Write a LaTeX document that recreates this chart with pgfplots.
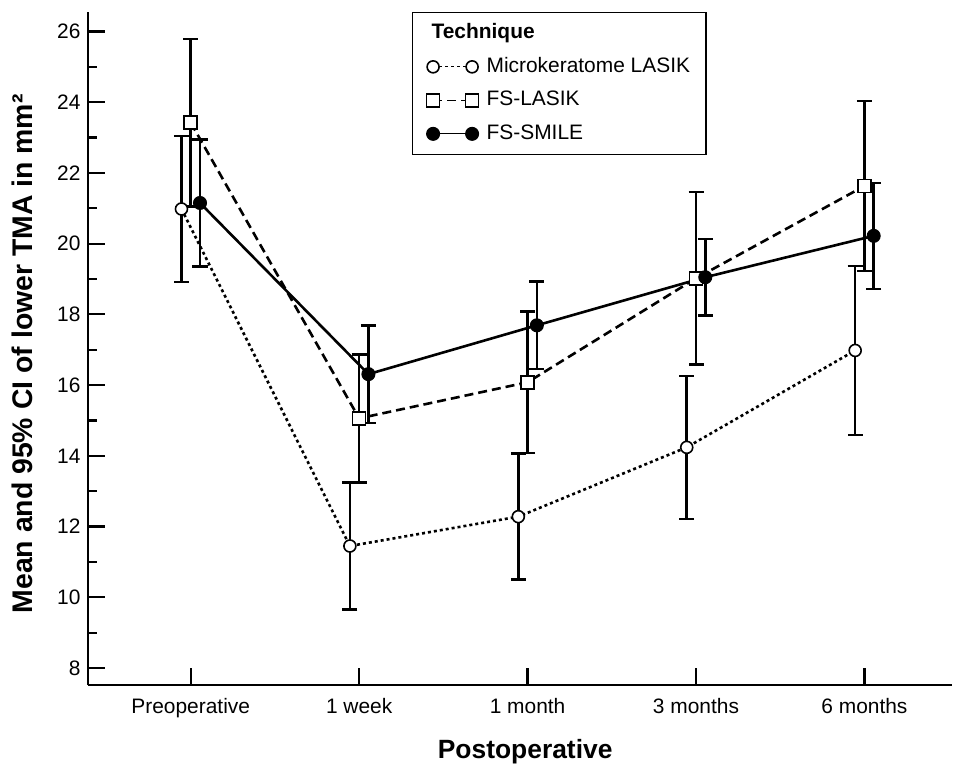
\documentclass[border=0pt]{standalone}
\usepackage{fontspec}
\setmainfont{Liberation Sans}
\usepackage{pgfplots}
\pgfplotsset{compat=1.18}

\pgfplotsset{
  ebar/.style={error bars/.cd, y dir=both, y explicit,
    error bar style={line width=2.5bp, solid, black},
    error mark options={rotate=90, mark size=7.5bp, line width=2.5bp, solid, black}},
}

\begin{document}
\begin{tikzpicture}
\begin{axis}[
  name=ax, at={(0,0)}, anchor=south west,
  scale only axis, width=864bp, height=673bp,
  xmin=-0.61, xmax=4.52, ymin=7.52, ymax=26.55,
  axis lines=left,
  axis line style={-, line width=2.5bp},
  tick align=inside,
  xtick={0,1,2,3,4},
  xticklabels={Preoperative,1 week,1 month,3 months,6 months},
  ytick={8,10,...,26},
  minor y tick num=1,
  major tick length=17bp, minor tick length=9bp,
  xtick style={black, line width=2.2bp},
  ytick style={black, line width=2.2bp},
  minor tick style={black, line width=2bp},
  ticklabel style={font=\fontsize{21}{24}\selectfont},
  /pgf/number format/assume math mode=true,
  xticklabel style={yshift=-10bp},
  yticklabel style={xshift=-4bp},
  xlabel={\textbf{Postoperative}},
  xlabel style={font=\fontsize{26.5}{30}\selectfont, at={(axis description cs:0.506,-0.1085)}, anchor=base},
  ylabel={\textbf{Mean and 95\% CI of lower TMA in mm²}},
  ylabel style={font=\fontsize{28.5}{32}\selectfont, at={(axis description cs:-0.0637,0.492)}, anchor=base},
  legend image code/.code={\draw[#1, line width=1.2bp] plot coordinates {(0bp,0bp) (39bp,0bp)};},
  legend cell align=left,
  legend style={at={(0.375,1)}, anchor=north west, draw=black, line width=1.2bp, fill=white,
    inner xsep=14bp, inner ysep=9bp, row sep=10bp, column sep=6bp,
    font=\fontsize{21}{24}\selectfont,
    nodes={inner sep=2bp, text height=15bp, text depth=4.5bp}},
]

\addlegendimage{empty legend}
\addlegendentry{\hspace*{-55bp}\textbf{Technique}}

% Microkeratome LASIK
\addplot[black, line width=2.6bp, dash pattern=on 3bp off 3bp,
  mark=*, mark size=6bp, mark options={solid, fill=white, line width=1.6bp}, ebar]
  table[x=x, y=y, y error=e] {
x      y     e
-0.055 20.98 2.06
0.945  11.45 1.79
1.945  12.28 1.78
2.945  14.24 2.02
3.945  16.98 2.39
};
\addlegendentry{Microkeratome LASIK}

% FS-LASIK
\addplot[black, line width=2.6bp, dash pattern=on 9bp off 5bp,
  mark=square*, mark size=6.5bp, mark options={solid, fill=white, line width=1.6bp}, ebar]
  table[x=x, y=y, y error=e] {
x y     e
0 23.42 2.37
1 15.06 1.81
2 16.08 2.00
3 19.02 2.44
4 21.63 2.41
};
\addlegendentry{FS-LASIK}

% FS-SMILE
\addplot[black, line width=2.6bp, solid,
  mark=*, mark size=6.5bp, mark options={solid, fill=black, line width=1bp}, ebar]
  table[x=x, y=y, y error=e] {
x     y     e
0.055 21.15 1.80
1.055 16.31 1.38
2.055 17.69 1.24
3.055 19.05 1.08
4.055 20.22 1.50
};
\addlegendentry{FS-SMILE}

\end{axis}
\pgfresetboundingbox
\useasboundingbox ([shift={(-88bp,-79bp)}]ax.south west) rectangle ([shift={(4bp,12bp)}]ax.north east);
\end{tikzpicture}
\end{document}
